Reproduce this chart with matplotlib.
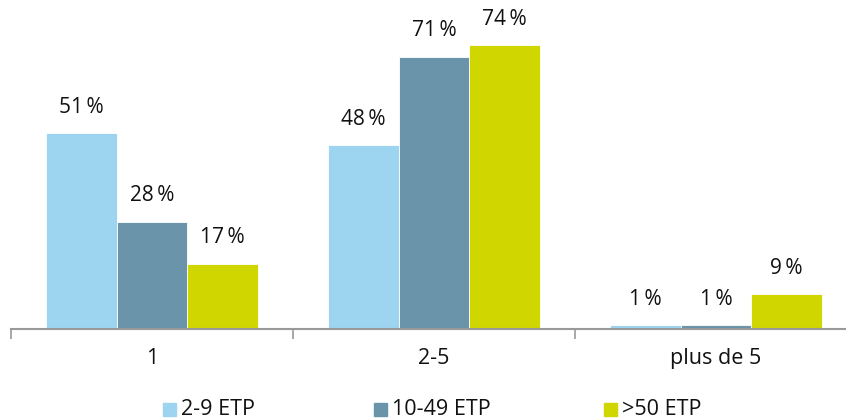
import matplotlib.pyplot as plt
import matplotlib.patches as mpatches
import numpy as np

plt.rcParams['font.family'] = ['Open Sans', 'DejaVu Sans']

categories = ['1', '2-5', 'plus de 5']
series_names = ['2-9 ETP', '10-49 ETP', '>50 ETP']
values_2_9 = [51, 48, 1]
values_10_49 = [28, 71, 1]
values_50 = [17, 74, 9]
colors = ['#9dd5f0', '#6a94a9', '#d0d600']

series = [values_2_9, values_10_49, values_50]

fig = plt.figure(figsize=(8.46, 4.19), dpi=100)
ax = fig.add_axes([11 / 846, 90 / 419, 1.0, 307 / 419])

x = np.arange(len(categories))
width = 0.25
for i, vals in enumerate(series):
    pos = x + (i - 1) * width
    bars = ax.bar(pos, vals, width, color=colors[i], edgecolor='white', linewidth=0.6)
    for b, v in zip(bars, vals):
        ax.annotate(f'{v}\u2009%', (b.get_x() + b.get_width() / 2, v),
                    xytext=(0, 11), textcoords='offset points',
                    ha='center', va='bottom', fontsize=15, color='#111111')

ax.set_xlim(-0.5, 2.5)
ax.set_ylim(0, 80)

for s in ['top', 'right', 'left']:
    ax.spines[s].set_visible(False)
ax.spines['bottom'].set_color('#999999')
ax.spines['bottom'].set_linewidth(1.5)
ax.set_yticks([])

# boundary ticks and centred category labels
ax.set_xticks([-0.5, 0.5, 1.5, 2.5])
ax.set_xticklabels([])
ax.tick_params(axis='x', which='major', length=7, width=1.2, color='#999999', direction='out')
ax.set_xticks(x, minor=True)
ax.set_xticklabels(categories, minor=True, fontsize=15.5, color='#111111')
ax.tick_params(axis='x', which='minor', length=0, pad=14)

# legend, drawn by hand
leg_x = [163, 374, 604]
for lx, name, c in zip(leg_x, series_names, colors):
    fig.patches.append(mpatches.Rectangle((lx / 846, 3 / 419), 13 / 846, 13 / 419,
                                          transform=fig.transFigure, color=c))
    fig.text((lx + 18) / 846, 10 / 419, name, fontsize=15.5, color='#111111',
             va='center', ha='left')

fig.savefig('out.png', dpi=100)
